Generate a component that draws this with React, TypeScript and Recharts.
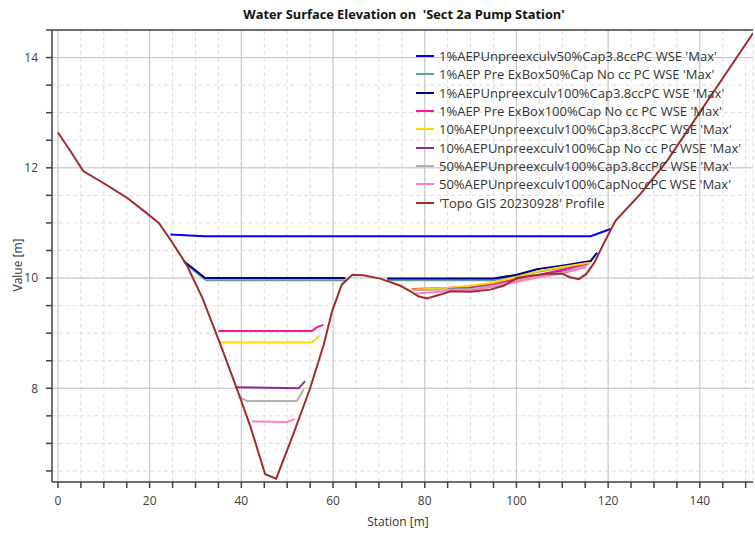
import { LineChart, Line, XAxis, YAxis, CartesianGrid, ReferenceLine } from 'recharts';

// Station [m] / elevation [m]
const topoStation = [0, 3, 5.5, 10, 15, 19, 22, 24.5, 28, 31.5, 35.4, 39, 42, 45.2, 47.6, 51.3, 55, 58, 59.8, 61.9, 64.2, 66.6, 70.3, 74.7, 76.9, 78.6, 80.5, 83.4, 85.6, 90, 94.3, 97.2, 100.1, 103.1, 106.7, 110, 111.5, 113.6, 115.2, 117, 119, 121.6, 127.1, 132.9, 151.6];
const topoValue = [12.64, 12.27, 11.94, 11.72, 11.46, 11.2, 11.0, 10.7, 10.25, 9.64, 8.8, 8.0, 7.3, 6.44, 6.36, 7.16, 8.0, 8.8, 9.4, 9.88, 10.06, 10.05, 9.99, 9.86, 9.76, 9.67, 9.63, 9.7, 9.76, 9.75, 9.79, 9.86, 10.0, 10.04, 10.08, 10.08, 10.02, 9.98, 10.07, 10.28, 10.62, 11.04, 11.53, 12.13, 14.44];

// null = gap in the water surface
const blueStation = [24.5, 32, 116.2, 120.5];
const blueValue = [10.79, 10.76, 10.76, 10.89];

const tealStation = [27.5, 32.3, 62.7, 67, 71.8, 95, 100, 105, 110, 116];
const tealValue = [10.28, 9.96, 9.96, null, 9.96, 9.96, 10.04, 10.12, 10.19, 10.27];

const navyStation = [27.4, 32.1, 62.7, 67, 71.8, 95, 100.1, 104.5, 110.3, 116.2, 117.6];
const navyValue = [10.31, 10.0, 10.0, null, 9.99, 9.99, 10.06, 10.16, 10.23, 10.31, 10.46];

const pinkStation = [35, 55.4, 56.5, 57.9, 67, 77.2, 85, 90, 95, 100, 105, 110, 115.5];
const pinkValue = [9.04, 9.04, 9.11, 9.15, null, 9.8, 9.82, 9.85, 9.9, 9.98, 10.06, 10.15, 10.25];

const goldStation = [35.4, 55.4, 57.1, 67, 77.2, 85, 90, 95, 100, 105, 110, 116];
const goldValue = [8.83, 8.83, 8.96, null, 9.79, 9.82, 9.86, 9.92, 10.02, 10.13, 10.2, 10.28];

const purpleStation = [38.6, 52.5, 53.9, 67, 85, 90, 95, 100, 105, 110, 115];
const purpleValue = [8.02, 8.0, 8.13, null, 9.8, 9.82, 9.87, 9.95, 10.05, 10.12, 10.2];

const grayStation = [39.4, 41.2, 52.1, 53.6, 67, 77.5, 85, 90, 95, 100, 105, 110, 115];
const grayValue = [7.85, 7.77, 7.77, 7.98, null, 9.78, 9.79, 9.8, 9.86, 9.95, 10.04, 10.1, 10.22];

const lightPinkStation = [42.3, 49.9, 51.7, 67, 78, 85, 90, 95, 100, 105, 110, 115.2];
const lightPinkValue = [7.4, 7.39, 7.44, null, 9.72, 9.76, 9.78, 9.84, 9.93, 10.02, 10.08, 10.2];

const xTicks = [0, 5, 10, 15, 20, 25, 30, 35, 40, 45, 50, 55, 60, 65, 70, 75, 80, 85, 90, 95, 100, 105, 110, 115, 120, 125, 130, 135, 140, 145, 150];
const xMajor = [0, 20, 40, 60, 80, 100, 120, 140];
const yTicks = [6.5, 7, 7.5, 8, 8.5, 9, 9.5, 10, 10.5, 11, 11.5, 12, 12.5, 13, 13.5, 14, 14.5];
const yMajor = [8, 10, 12, 14];

const toPoints = (s: number[], v: (number | null)[]) => s.map((x, i) => ({ s: x, v: v[i] }));

const series = [
  { name: "1%AEPUnpreexculv50%Cap3.8ccPC WSE 'Max'", color: '#0000ff', data: toPoints(blueStation, blueValue) },
  { name: "1%AEP Pre ExBox50%Cap No cc PC WSE 'Max'", color: '#5f9ea0', data: toPoints(tealStation, tealValue) },
  { name: "1%AEPUnpreexculv100%Cap3.8ccPC WSE 'Max'", color: '#000080', data: toPoints(navyStation, navyValue) },
  { name: "1%AEP Pre ExBox100%Cap No cc PC WSE 'Max'", color: '#ff1493', data: toPoints(pinkStation, pinkValue) },
  { name: "10%AEPUnpreexculv100%Cap3.8ccPC WSE 'Max'", color: '#ffd700', data: toPoints(goldStation, goldValue) },
  { name: "10%AEPUnpreexculv100%Cap No cc PC WSE 'Max'", color: '#8b2a9b', data: toPoints(purpleStation, purpleValue) },
  { name: "50%AEPUnpreexculv100%Cap3.8ccPC WSE 'Max'", color: '#b0b0b0', data: toPoints(grayStation, grayValue) },
  { name: "50%AEPUnpreexculv100%CapNoccPC WSE 'Max'", color: '#ff80c0', data: toPoints(lightPinkStation, lightPinkValue) },
  { name: "'Topo GIS 20230928' Profile", color: '#a52a2a', data: toPoints(topoStation, topoValue) },
];

const FONT = '"Open Sans", "Noto Sans", sans-serif';
const tickStyle = { fill: '#404040', fontSize: 12, fontFamily: FONT };

export default function App() {
  return (
    <div style={{ position: 'absolute', left: 0, top: 0, width: 755, height: 533, background: '#fff', fontFamily: FONT }}>
      <div
        style={{
          position: 'absolute',
          top: 5,
          left: 0,
          width: 808,
          textAlign: 'center',
          fontSize: 12.8,
          fontWeight: 700,
          color: '#111',
        }}
      >
        Water Surface Elevation on &nbsp;'Sect 2a Pump Station'
      </div>
      <LineChart width={755} height={533} margin={{ top: 30, right: 2, left: 12, bottom: 0 }}>
        <CartesianGrid stroke="#dedede" strokeDasharray="4 3" />
        {xMajor.map((x) => (
          <ReferenceLine key={`x${x}`} x={x} stroke="#c4c4c4" />
        ))}
        {yMajor.map((y) => (
          <ReferenceLine key={`y${y}`} y={y} stroke="#c4c4c4" />
        ))}
        <ReferenceLine y={14.5} stroke="#404040" strokeWidth={1.5} />
        <XAxis
          dataKey="s"
          type="number"
          domain={[-1.3, 151.6]}
          ticks={xTicks}
          interval={0}
          allowDataOverflow
          height={51}
          stroke="#404040"
          strokeWidth={1.5}
          tickSize={6}
          tickMargin={8}
          tick={tickStyle}
          tickFormatter={(v: number) => (v % 20 === 0 ? String(v) : '')}
        />
        <YAxis
          type="number"
          domain={[6.3, 14.5]}
          ticks={yTicks}
          interval={0}
          allowDataOverflow
          width={40}
          stroke="#404040"
          strokeWidth={1.5}
          tickSize={6}
          tickMargin={8}
          tick={tickStyle}
          tickFormatter={(v: number) => (yMajor.includes(v) ? String(v) : '')}
        />
        {series.map((sr) => (
          <Line
            key={sr.name}
            data={sr.data}
            dataKey="v"
            name={sr.name}
            type="linear"
            stroke={sr.color}
            strokeWidth={2}
            dot={false}
            activeDot={false}
            connectNulls={false}
            isAnimationActive={false}
          />
        ))}
      </LineChart>
      <div
        style={{
          position: 'absolute',
          left: 398,
          top: 513,
          width: 0,
          display: 'flex',
          justifyContent: 'center',
          whiteSpace: 'nowrap',
          fontSize: 12,
          color: '#333',
        }}
      >
        Station [m]
      </div>
      <div
        style={{
          position: 'absolute',
          left: 17,
          top: 265,
          transform: 'translate(-50%, -50%) rotate(-90deg)',
          whiteSpace: 'nowrap',
          fontSize: 12,
          color: '#333',
        }}
      >
        Value [m]
      </div>
      <div style={{ position: 'absolute', left: 416, top: 47 }}>
        {series.map((sr) => (
          <div key={sr.name} style={{ display: 'flex', alignItems: 'center', height: 18.3, whiteSpace: 'nowrap' }}>
            <div style={{ width: 18, height: 2, background: sr.color, marginRight: 5 }} />
            <span style={{ fontSize: 13, color: '#333' }}>{sr.name}</span>
          </div>
        ))}
      </div>
    </div>
  );
}
